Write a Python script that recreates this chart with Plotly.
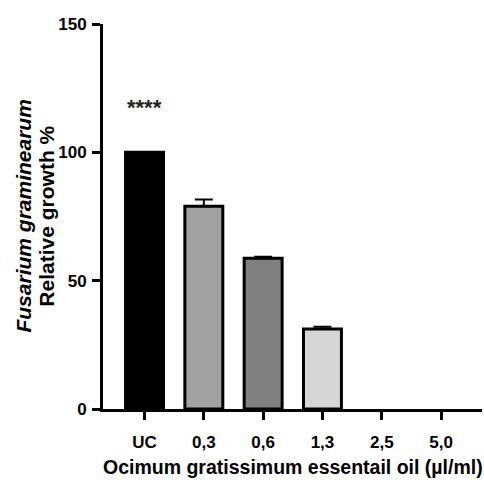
import plotly.graph_objects as go

categories = ["UC", "0,3", "0,6", "1,3", "2,5", "5,0"]
growth = [100, 79, 58.7, 31.2, 0, 0]
sem = [0, 2.6, 0.6, 0.8, 0, 0]
bar_colors = ["#000000", "#a2a2a5", "#808080", "#d5d5d5", "#ffffff", "#ffffff"]
signif_label = "****"
signif_y = 117.5
x_title = "Ocimum gratissimum essentail oil (µl/ml)"
y_title_1 = "Fusarium graminearum"
y_title_2 = "Relative growth %"

font_fam = "Liberation Sans, Arial, sans-serif"

# bars with zero growth have no visible outline or error bar
outline_w = [3 if v > 0 else 0 for v in growth]
keep = [i for i, g in enumerate(growth) if g > 0]

fig = go.Figure()
fig.add_trace(go.Bar(
    x=categories, y=growth,
    width=0.64,
    marker=dict(color=bar_colors, line=dict(color="#000000", width=outline_w)),
    showlegend=False, hoverinfo="skip",
))
fig.add_trace(go.Scatter(
    x=[categories[i] for i in keep], y=[growth[i] for i in keep],
    mode="markers", marker=dict(size=1, color="rgba(0,0,0,0)"),
    error_y=dict(type="data", array=[sem[i] for i in keep], arrayminus=[0]*len(keep),
                 symmetric=False, color="#000000", thickness=2, width=9),
    showlegend=False,
))

fig.add_annotation(x=categories[0], y=signif_y, text="<b>" + signif_label + "</b>",
                   showarrow=False, font=dict(size=22, color="#222222", family=font_fam))

# axis titles
fig.add_annotation(xref="paper", yref="paper", x=-0.211, y=0.5,
                   xanchor="center", yanchor="middle", textangle=-90, showarrow=False,
                   text="<b><i>" + y_title_1 + "</i></b>", font=dict(size=21, family=font_fam))
fig.add_annotation(xref="paper", yref="paper", x=-0.150, y=0.5,
                   xanchor="center", yanchor="middle", textangle=-90, showarrow=False,
                   text="<b>" + y_title_2 + "</b>", font=dict(size=21, family=font_fam))
fig.add_annotation(xref="paper", yref="paper", x=0.5, y=-0.151,
                   xanchor="center", yanchor="middle", showarrow=False,
                   text="<b>" + x_title + "</b>", font=dict(size=19.5, family=font_fam))

fig.update_layout(
    width=484, height=480,
    margin=dict(l=103, r=2, t=24, b=71),
    plot_bgcolor="white", paper_bgcolor="white",
    font=dict(family=font_fam, color="#000000"),
    xaxis=dict(
        type="category", range=[-0.70, 5.69],
        categoryorder="array", categoryarray=categories,
        showline=True, linecolor="#000000", linewidth=3,
        ticks="outside", ticklen=8, tickwidth=3, tickcolor="#000000",
        tickfont=dict(size=17, family=font_fam, weight="bold"),
        ticklabelstandoff=8,
        showgrid=False, zeroline=False, automargin=False,
    ),
    yaxis=dict(
        range=[0, 150], tickvals=[0, 50, 100, 150],
        showline=True, linecolor="#000000", linewidth=3,
        ticks="outside", ticklen=8, tickwidth=3, tickcolor="#000000",
        tickfont=dict(size=17, family=font_fam, weight="bold"),
        ticklabelstandoff=2,
        showgrid=False, zeroline=False, automargin=False,
    ),
)

fig.write_html("out.html", config={"displayModeBar": False},
               post_script="document.body.style.margin='0px';document.body.style.padding='0px';")
